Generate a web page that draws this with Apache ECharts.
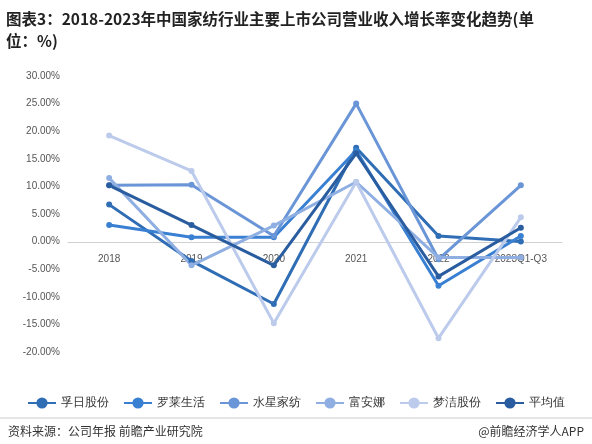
<!DOCTYPE html><html><head><meta charset="utf-8"><script src="https://cdn.jsdelivr.net/npm/echarts@6/dist/echarts.min.js"></script>
<style>body{margin:0}#c{width:592px;height:444px}</style></head><body><div id="c"></div><script>
const categories=['2018','2019','2020','2021','2022','2023Q1-Q3'];
const furi=[6.7,-3.5,-11.3,17.0,1.0,0.0];
const luolai=[3.0,0.8,0.8,16.5,-8.0,1.0];
const shuixing=[10.2,10.3,1.0,25.0,-3.2,10.2];
const fuanna=[11.5,-4.3,2.9,10.8,-2.9,-2.9];
const mengjie=[19.2,12.8,-14.8,10.8,-17.5,4.4];
const avg=[10.2,3.0,-4.3,16.0,-6.3,2.5];
const names=['孚日股份','罗莱生活','水星家纺','富安娜','梦洁股份','平均值'];
const colors=['#2f6db5','#3a80d2','#6a95d6','#8fafe2','#bccbec','#2a5d9f'];
const data=[furi,luolai,shuixing,fuanna,mengjie,avg];
const ch=echarts.init(document.getElementById('c'));
ch.setOption({
 graphic:[
  {type:'text',left:6,top:8,style:{text:'图表3：2018-2023年中国家纺行业主要上市公司营业收入增长率变化趋势(单\n位：%)',font:'bold 15.5px "Noto Sans CJK SC"',fill:'#222',lineHeight:22}},
  {type:'line',shape:{x1:0,y1:418,x2:592,y2:418},style:{stroke:'#ccc'}},
  {type:'text',left:8,top:425,style:{text:'资料来源：公司年报 前瞻产业研究院',font:'12px "Noto Sans CJK SC"',fill:'#333'}},
  {type:'text',right:8,top:425,style:{text:'@前瞻经济学人APP',font:'12px "Noto Sans CJK SC"',fill:'#333'}}
 ],
 grid:{left:68,right:30,top:76,bottom:92},
 legend:{bottom:30,left:'center',itemGap:14,itemWidth:28,textStyle:{fontSize:12,color:'#333'},data:names},
 xAxis:{type:'category',data:categories,boundaryGap:true,offset:-110,axisLine:{onZero:false,lineStyle:{color:'#d0d0d0'}},axisTick:{show:false},axisLabel:{color:'#555',fontSize:10,margin:12}},
 yAxis:{type:'value',min:-20,max:30,interval:5,axisLabel:{formatter:v=>v.toFixed(2)+'%',color:'#555',fontSize:10},splitLine:{show:false},axisLine:{show:false}},
 series:data.map((d,i)=>({name:names[i],type:'line',data:d,symbol:'circle',symbolSize:6,lineStyle:{width:3,color:colors[i]},itemStyle:{color:colors[i]}}))
});
</script></body></html>
